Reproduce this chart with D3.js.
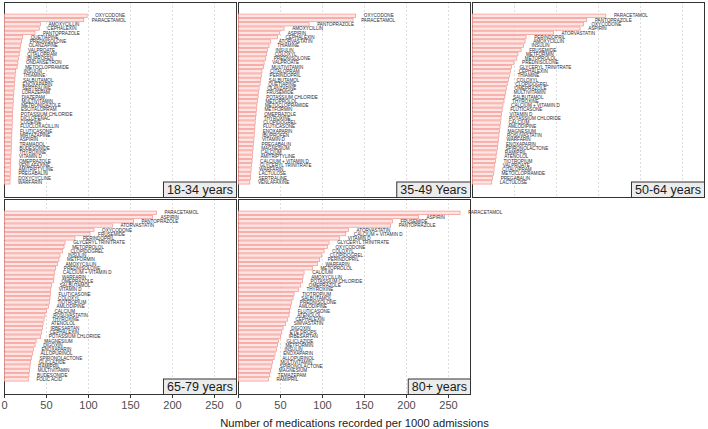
<!DOCTYPE html>
<html>
<head>
<meta charset="utf-8">
<script src="https://cdn.jsdelivr.net/npm/d3@7"></script>
<style>
  html, body { margin: 0; padding: 0; background: #fff; }
  svg { display: block; }
</style>
</head>
<body>
<div id="chart"></div>
<script>
// ---------------- DATA ----------------
const panelTitles = ["18-34 years", "35-49 Years", "50-64 years", "65-79 years", "80+ years"];

const drugs1834 = ["OXYCODONE","PARACETAMOL","AMOXYCILLIN","CEPHALEXIN","PANTOPRAZOLE","QUETIAPINE","PREDNISOLONE","OLANZAPINE","VALPROATE","CITALOPRAM","IBUPROFEN","ONDANSETRON","METOCLOPRAMIDE","INSULIN","THIAMINE","SALBUTAMOL","ENOXAPARIN","SERTRALINE","LORAZEPAM","DIAZEPAM","MULTIVITAMIN","METRONIDAZOLE","ESCITALOPRAM","POTASSIUM CHLORIDE","DICLOFENAC","CODEINE","FLUCLOXACILLIN","FLUTICASONE","MIRTAZAPINE","ASPIRIN","TRAMADOL","BUDESONIDE","THYROXINE","VITAMIN D","OMEPRAZOLE","VENLAFAXINE","AMITRIPTYLINE","PREGABALIN","DOXYCYCLINE","WARFARIN"];
const values1834 = [98.5,94.5,42.8,41.5,36.4,21.8,20.6,19.4,18.6,17.6,16.8,16.0,15.2,13.4,12.8,12.4,12.0,11.6,11.2,10.9,10.6,10.3,10.0,9.8,9.6,9.4,9.2,9.0,8.8,8.6,8.4,8.2,8.0,7.8,7.6,7.4,7.2,7.0,6.8,6.6];

const drugs3549 = ["OXYCODONE","PARACETAMOL","PANTOPRAZOLE","AMOXYCILLIN","ASPIRIN","CEPHALEXIN","ATORVASTATIN","THIAMINE","INSULIN","COLOXYL","PREDNISOLONE","VALPROATE","MULTIVITAMIN","CITALOPRAM","PERINDOPRIL","SALBUTAMOL","QUETIAPINE","OLANZAPINE","FRUSEMIDE","POTASSIUM CHLORIDE","METOPROLOL","METOCLOPRAMIDE","METFORMIN","OMEPRAZOLE","THYROXINE","CLOPIDOGREL","FLUTICASONE","ENOXAPARIN","IBUPROFEN","VITAMIN D","PREGABALIN","MAGNESIUM","CALCIUM","AMITRIPTYLINE","CALCIUM + VITAMIN D","GLYCERYL TRINITRATE","WARFARIN","LACTULOSE","SERTRALINE","VENLAFAXINE"];
const values3549 = [139.7,136.5,84.1,54.4,49.0,46.5,38.5,36.5,34.5,33.7,32.5,30.6,29.8,28.0,27.5,26.6,25.8,24.6,23.8,23.4,22.6,22.0,21.5,21.0,20.5,20.0,19.6,19.2,18.8,18.4,18.0,17.5,17.1,16.6,16.2,15.7,15.2,14.7,14.2,13.6];

const drugs5064 = ["PARACETAMOL","PANTOPRAZOLE","OXYCODONE","ASPIRIN","ATORVASTATIN","PERINDOPRIL","AMOXYCILLIN","INSULIN","FRUSEMIDE","METFORMIN","METOPROLOL","PREDNISOLONE","GLYCERYL TRINITRATE","CEPHALEXIN","THIAMINE","COLOXYL","CLOPIDOGREL","OMEPRAZOLE","MULTIVITAMIN","SALBUTAMOL","THYROXINE","CALCIUM + VITAMIN D","FLUTICASONE","VITAMIN D","POTASSIUM CHLORIDE","CALCIUM","AMLODIPINE","MAGNESIUM","ROSUVASTATIN","WARFARIN","ENOXAPARIN","SPIRONOLACTONE","RAMIPRIL","ATENOLOL","TIOTROPIUM","VALPROATE","CITALOPRAM","METOCLOPRAMIDE","PREGABALIN","LACTULOSE"];
const values5064 = [158.8,136.2,132.1,128.2,96.4,63.9,62.7,60.7,58.0,54.2,52.8,49.5,46.5,45.4,44.0,42.9,41.5,40.6,39.6,38.6,37.6,36.4,35.4,34.6,34.0,33.4,32.8,32.2,31.6,31.0,30.4,29.8,29.0,28.2,27.4,26.6,25.8,25.0,24.0,23.0];

const drugs6579 = ["PARACETAMOL","ASPIRIN","PANTOPRAZOLE","ATORVASTATIN","OXYCODONE","FRUSEMIDE","PERINDOPRIL","GLYCERYL TRINITRATE","METOPROLOL","CLOPIDOGREL","INSULIN","METFORMIN","AMOXYCILLIN","PREDNISOLONE","CALCIUM + VITAMIN D","WARFARIN","OMEPRAZOLE","SALBUTAMOL","VITAMIN D","FLUTICASONE","COLOXYL","TIOTROPIUM","AMLODIPINE","CALCIUM","ROSUVASTATIN","THYROXINE","ATENOLOL","IRBESARTAN","CEPHALEXIN","POTASSIUM CHLORIDE","MAGNESIUM","DIGOXIN","ENOXAPARIN","ALLOPURINOL","SPIRONOLACTONE","GLICLAZIDE","RAMIPRIL","MULTIVITAMIN","BUDESONIDE","FOLIC ACID"];
const values6579 = [181.0,176.2,153.5,128.5,106.7,101.9,84.0,72.2,71.0,69.0,66.2,65.0,63.1,61.1,59.9,59.0,58.3,56.3,55.1,54.7,54.3,53.5,52.3,50.0,48.4,47.2,46.0,45.2,44.4,43.2,37.8,36.5,34.5,33.3,32.1,31.3,30.5,30.0,29.3,28.5];

const drugs80 = ["PARACETAMOL","ASPIRIN","FRUSEMIDE","PANTOPRAZOLE","ATORVASTATIN","CALCIUM + VITAMIN D","VITAMIN D","GLYCERYL TRINITRATE","OXYCODONE","COLOXYL","CLOPIDOGREL","PERINDOPRIL","WARFARIN","METOPROLOL","CALCIUM","AMOXYCILLIN","POTASSIUM CHLORIDE","OMEPRAZOLE","THYROXINE","TIOTROPIUM","SALBUTAMOL","PREDNISOLONE","AMLODIPINE","FLUTICASONE","ATENOLOL","CEPHALEXIN","SIMVASTATIN","DIGOXIN","EYE DROPS","IRBESARTAN","GLICLAZIDE","METFORMIN","INSULIN","ENOXAPARIN","ALLOPURINOL","MULTIVITAMIN","SPIRONOLACTONE","MAGNESIUM","TEMAZEPAM","RAMIPRIL"];
const values80 = [263.9,214.3,183.3,181.3,131.0,127.8,120.6,108.0,106.0,102.0,99.2,96.8,94.0,88.1,78.2,77.0,76.2,74.2,71.4,66.3,65.1,63.5,62.3,61.1,60.3,58.3,56.3,53.2,51.6,50.4,47.6,46.4,45.2,43.7,42.5,40.5,39.7,38.5,37.3,35.7];

const xTicks = [0, 50, 100, 150, 200, 250];
const xTitle = "Number of medications recorded per 1000 admissions";

// ---------------- LAYOUT ----------------
const W = 708, H = 429;
const panelW = 233, panelH = 196;
const colX = [4, 238, 472];
const rowY = [2, 199];
const xMax = 277.4;

const panels = [
  {title: panelTitles[0], names: drugs1834, vals: values1834},
  {title: panelTitles[1], names: drugs3549, vals: values3549},
  {title: panelTitles[2], names: drugs5064, vals: values5064},
  {title: panelTitles[3], names: drugs6579, vals: values6579},
  {title: panelTitles[4], names: drugs80,   vals: values80}
];

const svg = d3.select("#chart").append("svg")
  .attr("width", W).attr("height", H)
  .style("font-family", "Liberation Sans, Arial, sans-serif");

const x = d3.scaleLinear().domain([0, xMax]).range([0, panelW]);

panels.forEach((p, i) => {
  const col = i % 3, row = Math.floor(i / 3);
  const g = svg.append("g").attr("transform", `translate(${colX[col]},${rowY[row]})`);

  const y = d3.scaleBand().domain(p.names).range([11.24, 182.9])
    .paddingInner(0.22).paddingOuter(0.2);

  // background
  g.append("rect").attr("x", 0).attr("y", 0).attr("width", panelW).attr("height", panelH)
    .attr("fill", "#fff");

  // grid
  g.selectAll("line.grid").data(xTicks.filter(t => t > 0)).enter().append("line")
    .attr("class", "grid")
    .attr("x1", d => Math.round(x(d)) + 0.5).attr("x2", d => Math.round(x(d)) + 0.5)
    .attr("y1", 0).attr("y2", panelH)
    .attr("stroke", "#d4d4d4").attr("stroke-width", 0.8)
    .attr("stroke-dasharray", "2,2");

  // border
  g.append("rect").attr("x", 0.5).attr("y", 0.5).attr("width", panelW - 1).attr("height", panelH - 1)
    .attr("fill", "none").attr("stroke", "#333").attr("stroke-width", 1);

  // bars
  const data = p.names.map((n, k) => ({name: n, value: p.vals[k]}));
  g.selectAll("rect.bar").data(data).enter().append("rect")
    .attr("class", "bar")
    .attr("x", x(0) + 0.4)
    .attr("y", d => y(d.name))
    .attr("width", d => Math.max(0, x(d.value) - x(0)))
    .attr("height", y.bandwidth())
    .attr("fill", "#fde5e3")
    .attr("stroke", "#f4918b")
    .attr("stroke-width", 0.7);

  // labels
  g.selectAll("text.lab").data(data).enter().append("text")
    .attr("class", "lab")
    .attr("x", d => x(d.value) + 8.5)
    .attr("y", d => y(d.name) + y.bandwidth() / 2)
    .attr("dy", "0.36em")
    .attr("font-size", 4.6)
    .attr("fill", "#2b2b35")
    .text(d => d.name);

  // strip label box in bottom-right corner
  const t = g.append("text")
    .attr("font-size", 12.5).attr("fill", "#1a1a1a")
    .attr("text-anchor", "middle")
    .text(p.title);
  const tw = t.node().getComputedTextLength();
  const bw = tw + 8, bh = 16.5;
  g.insert("rect", "text:last-of-type")
    .attr("x", panelW - bw + 0.5).attr("y", panelH - bh + 0.5)
    .attr("width", bw - 1).attr("height", bh - 1)
    .attr("fill", "#ececec").attr("stroke", "#333").attr("stroke-width", 1);
  t.attr("x", panelW - bw / 2).attr("y", panelH - bh / 2 + 4.5);
  t.raise();

  // x axis for bottom-row panels
  if (row === 1) {
    const ax = svg.append("g")
      .attr("transform", `translate(${colX[col]},${rowY[row] + panelH})`)
      .call(d3.axisBottom(x).tickValues(xTicks).tickSize(3).tickPadding(3).tickFormat(d3.format("d")));
    ax.select(".domain").remove();
    ax.selectAll(".tick line").attr("stroke", "#333");
    ax.selectAll(".tick text").attr("font-size", 11).attr("fill", "#4d4d4d")
      .attr("font-family", "Liberation Sans, Arial, sans-serif");
  }
});

// x axis title
svg.append("text")
  .attr("x", (colX[0] + colX[2] + panelW) / 2)
  .attr("y", 426.5)
  .attr("text-anchor", "middle")
  .attr("font-size", 11.2)
  .attr("fill", "#1a1a1a")
  .text(xTitle);
</script>
</body>
</html>
